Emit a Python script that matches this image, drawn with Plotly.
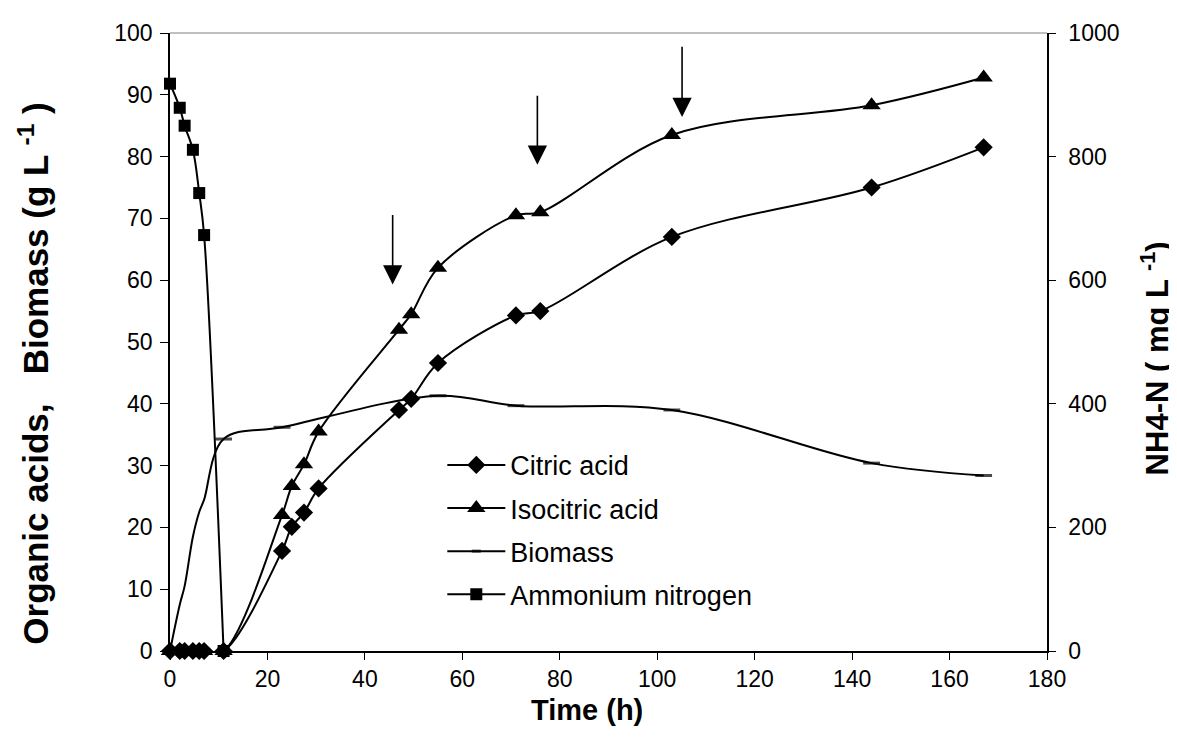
import plotly.graph_objects as go

# ---- data ----
time_nh4 = [0, 2, 3, 4.7, 6, 7, 11]
ammonium = [918, 879, 850, 811, 741, 673, 0]

time_acids = [0, 2, 3, 4.7, 6, 7, 11, 23, 25, 27.5, 30.5, 47, 49.5, 55, 71, 76, 103, 144, 167]
citric = [0, 0, 0, 0, 0, 0, 0, 16.2, 20.1, 22.4, 26.3, 39.0, 40.8, 46.6, 54.3, 55.0, 67.0, 75.0, 81.5]
isocitric = [0, 0, 0, 0, 0, 0, 0, 22.0, 26.7, 30.2, 35.5, 52.0, 54.5, 62.0, 70.5, 71.0, 83.5, 88.3, 92.8]

time_biomass = [0, 2, 3, 4.7, 6, 7, 11, 23, 55, 71, 103, 144, 167]
biomass = [0, 7.5, 10.5, 18.5, 22.5, 24.5, 34.3, 36.2, 41.3, 39.7, 39.0, 30.4, 28.4]
biomass_marker_visible = [0, 0, 0, 0, 0, 0, 1, 1, 1, 1, 1, 1, 1]

# feed-arrow annotations: (time, arrow top value, arrow tip value)
arrow_time = [45.7, 75.4, 105.1]
arrow_top = [70.8, 90.1, 98.0]
arrow_tip = [59.3, 78.7, 86.4]

FONT = "Arial, Liberation Sans, sans-serif"
BLACK = "#000000"

W, H = 1177, 747
ML, MR, MT, MB = 162, 138, 20, 104
PW = W - ML - MR

fig = go.Figure()

fig.add_trace(go.Scatter(
    x=time_acids, y=citric, name="Citric acid", mode="lines+markers",
    line=dict(color=BLACK, width=2, shape="spline", smoothing=1),
    marker=dict(symbol="diamond", size=14, color=BLACK),
    cliponaxis=False, legendgroup="a"))

fig.add_trace(go.Scatter(
    x=time_acids, y=isocitric, name="Isocitric acid", mode="lines+markers",
    line=dict(color=BLACK, width=2, shape="spline", smoothing=1),
    marker=dict(symbol="triangle-up", size=16, color=BLACK),
    cliponaxis=False, legendgroup="b"))

fig.add_trace(go.Scatter(
    x=time_biomass, y=biomass, name="Biomass", mode="lines+markers",
    line=dict(color=BLACK, width=2, shape="spline", smoothing=1),
    marker=dict(symbol="line-ew", size=[12 * v for v in biomass_marker_visible],
                color=BLACK, line=dict(color=BLACK, width=3)),
    cliponaxis=False, legendgroup="c"))

fig.add_trace(go.Scatter(
    x=time_nh4, y=ammonium, name="Ammonium nitrogen", mode="lines+markers",
    line=dict(color=BLACK, width=2, shape="spline", smoothing=1),
    marker=dict(symbol="square", size=12, color=BLACK),
    cliponaxis=False, yaxis="y2", legendgroup="d"))

for t, top, tip in zip(arrow_time, arrow_top, arrow_tip):
    fig.add_annotation(x=t, y=tip, ax=t, ay=top, xref="x", yref="y",
                       axref="x", ayref="y", text="", showarrow=True,
                       arrowhead=2, arrowsize=2.4, arrowwidth=1.6,
                       arrowcolor=BLACK, standoff=0)

# axis titles
fig.add_annotation(text="<b>Time (h)</b>", xref="paper", yref="paper",
                   x=0.4755, y=-0.095, xanchor="center", yanchor="middle",
                   showarrow=False, font=dict(family=FONT, size=29, color=BLACK))
fig.add_annotation(text="<b>Organic acids,   Biomass (g L <sup>-1</sup> )</b>",
                   xref="paper", yref="paper", x=-0.156, y=0.449,
                   xanchor="center", yanchor="middle", textangle=-90,
                   showarrow=False, font=dict(family=FONT, size=35, color=BLACK))
fig.add_annotation(text="<b>NH4-N ( mg L <sup>-1</sup>)</b>",
                   xref="paper", yref="paper", x=(1147 - ML) / PW, y=0.4735,
                   xanchor="center", yanchor="middle", textangle=-90,
                   showarrow=False, font=dict(family=FONT, size=31, color=BLACK))

# thin grey top border of plot area
fig.add_shape(type="line", xref="paper", yref="paper", x0=0, x1=1, y0=1, y1=1,
              line=dict(color="#808080", width=1))

fig.update_layout(
    width=W, height=H,
    margin=dict(l=ML, r=MR, t=MT, b=MB),
    paper_bgcolor="white", plot_bgcolor="white",
    font=dict(family=FONT, size=23, color=BLACK),
    showlegend=True,
    legend=dict(x=0.3105, y=0.34, xanchor="left", yanchor="top",
                font=dict(family=FONT, size=27, color=BLACK),
                bgcolor="rgba(0,0,0,0)", itemwidth=58, tracegroupgap=5,
                traceorder="grouped"),
    xaxis=dict(range=[0, 180], dtick=20, tick0=0, showgrid=False, zeroline=False,
               showline=True, linecolor=BLACK, linewidth=1.5,
               ticks="outside", ticklen=7, tickcolor=BLACK, tickwidth=1,
               tickfont=dict(size=23)),
    yaxis=dict(range=[0, 100], dtick=10, tick0=0, showgrid=False, zeroline=False,
               showline=True, linecolor=BLACK, linewidth=1.5,
               ticks="outside", ticklen=8, tickcolor=BLACK, tickwidth=1,
               tickfont=dict(size=23), ticklabelstandoff=3),
    yaxis2=dict(range=[0, 1000], dtick=200, tick0=0, overlaying="y", side="right",
                showgrid=False, zeroline=False,
                showline=True, linecolor=BLACK, linewidth=1.5,
                ticks="outside", ticklen=7, tickcolor=BLACK, tickwidth=1,
                tickfont=dict(size=23), ticklabelstandoff=8),
)

fig.write_html("out.html")
